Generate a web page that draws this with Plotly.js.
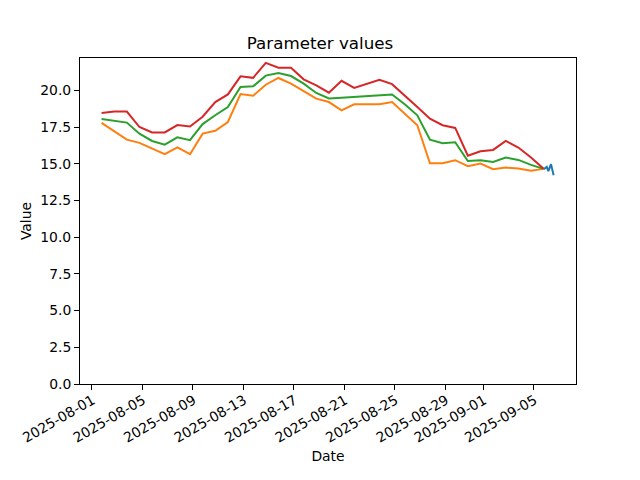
<!DOCTYPE html>
<html>
<head>
<meta charset="utf-8">
<script src="https://cdn.plot.ly/plotly-3.0.1.min.js"></script>
<style>html,body{margin:0;padding:0;background:#fff;}#chart{width:640px;height:480px;}</style>
</head>
<body>
<div id="chart"></div>
<script>
// Daily series dates
const dailyDates = [
  "2025-08-01 19:00","2025-08-02 19:00","2025-08-03 19:00","2025-08-04 19:00","2025-08-05 19:00",
  "2025-08-06 19:00","2025-08-07 19:00","2025-08-08 19:00","2025-08-09 19:00","2025-08-10 19:00",
  "2025-08-11 19:00","2025-08-12 19:00","2025-08-13 19:00","2025-08-14 19:00","2025-08-15 19:00",
  "2025-08-16 19:00","2025-08-17 19:00","2025-08-18 19:00","2025-08-19 19:00","2025-08-20 19:00",
  "2025-08-21 19:00","2025-08-22 19:00","2025-08-23 19:00","2025-08-24 19:00","2025-08-25 19:00",
  "2025-08-26 19:00","2025-08-27 19:00","2025-08-28 19:00","2025-08-29 19:00","2025-08-30 19:00",
  "2025-08-31 19:00","2025-09-01 19:00","2025-09-02 19:00","2025-09-03 19:00","2025-09-04 19:00",
  "2025-09-05 19:00"
];
const lowValues = [
  17.78,17.24,16.64,16.42,16.03,15.65,16.12,15.65,17.05,17.24,
  17.84,19.75,19.63,20.38,20.84,20.45,19.95,19.43,19.20,18.64,
  19.05,19.05,19.05,19.20,18.41,17.62,15.03,15.03,15.24,14.83,
  15.01,14.63,14.74,14.67,14.52,14.65
];
const meanValues = [
  18.05,17.91,17.80,17.05,16.55,16.30,16.80,16.60,17.70,18.30,
  18.86,20.22,20.27,21.00,21.18,20.97,20.45,19.82,19.45,19.50,
  19.55,19.60,19.70,19.72,19.05,18.30,16.64,16.40,16.46,15.19,
  15.24,15.12,15.42,15.26,14.92,14.65
];
const highValues = [
  18.45,18.55,18.55,17.50,17.13,17.13,17.63,17.53,18.20,19.20,
  19.72,20.95,20.85,21.87,21.54,21.54,20.75,20.34,19.84,20.65,
  20.16,20.45,20.72,20.42,19.66,18.87,18.07,17.62,17.44,15.55,
  15.85,15.94,16.55,16.10,15.42,14.65
];
// Short sub-daily series at the end
const recentDates = ["2025-09-05 19:00","2025-09-06 01:00","2025-09-06 04:00","2025-09-06 09:00","2025-09-06 14:00"];
const recentValues = [14.62,14.78,14.50,14.97,14.22];

const xTickVals = ["2025-08-01","2025-08-05","2025-08-09","2025-08-13","2025-08-17","2025-08-21","2025-08-25","2025-08-29","2025-09-01","2025-09-05"];
const xTickText = ["2025-08-01","2025-08-05","2025-08-09","2025-08-13","2025-08-17","2025-08-21","2025-08-25","2025-08-29","2025-09-01","2025-09-05"];
const yTickVals = [0,2.5,5,7.5,10,12.5,15,17.5,20];

const line = (c) => ({color: c, width: 2});
const traces = [
  {x: recentDates, y: recentValues, type: 'scatter', mode: 'lines', line: line('#1f77b4')},
  {x: dailyDates, y: lowValues, type: 'scatter', mode: 'lines', line: line('#ff7f0e')},
  {x: dailyDates, y: meanValues, type: 'scatter', mode: 'lines', line: line('#2ca02c')},
  {x: dailyDates, y: highValues, type: 'scatter', mode: 'lines', line: line('#d62728')}
];
const font = {family: 'DejaVu Sans, sans-serif', color: '#000', size: 13.9};
const layout = {
  width: 640, height: 480,
  margin: {l: 80, r: 64, t: 58, b: 96},
  paper_bgcolor: '#fff', plot_bgcolor: '#fff',
  showlegend: false,
  font: font,
  title: {text: 'Parameter values', font: {family: 'DejaVu Sans, sans-serif', size: 16.7, color: '#000'}, x: 0.5, xanchor: 'center', y: 0.91, yanchor: 'middle'},
  xaxis: {
    type: 'date',
    range: ['2025-07-31 02:00', '2025-09-08 08:30'],
    tickvals: xTickVals, ticktext: xTickText, tickangle: -30,
    ticklabelshift: 1, ticklabelstandoff: -3,
    showgrid: false, zeroline: false,
    showline: true, linecolor: '#000', linewidth: 1, mirror: true,
    ticks: 'outside', ticklen: 5, tickcolor: '#000', tickwidth: 1,
    tickfont: font,
    title: {text: 'Date', font: font, standoff: 6}
  },
  yaxis: {
    range: [0, 22.2],
    tickvals: yTickVals, tickformat: '.1f',
    showgrid: false, zeroline: false,
    showline: true, linecolor: '#000', linewidth: 1, mirror: true,
    ticks: 'outside', ticklen: 5, tickcolor: '#000', tickwidth: 1,
    tickfont: font,
    title: {text: 'Value', font: font, standoff: 5}
  }
};
Plotly.newPlot('chart', traces, layout, {displayModeBar: false, staticPlot: true});
</script>
</body>
</html>
